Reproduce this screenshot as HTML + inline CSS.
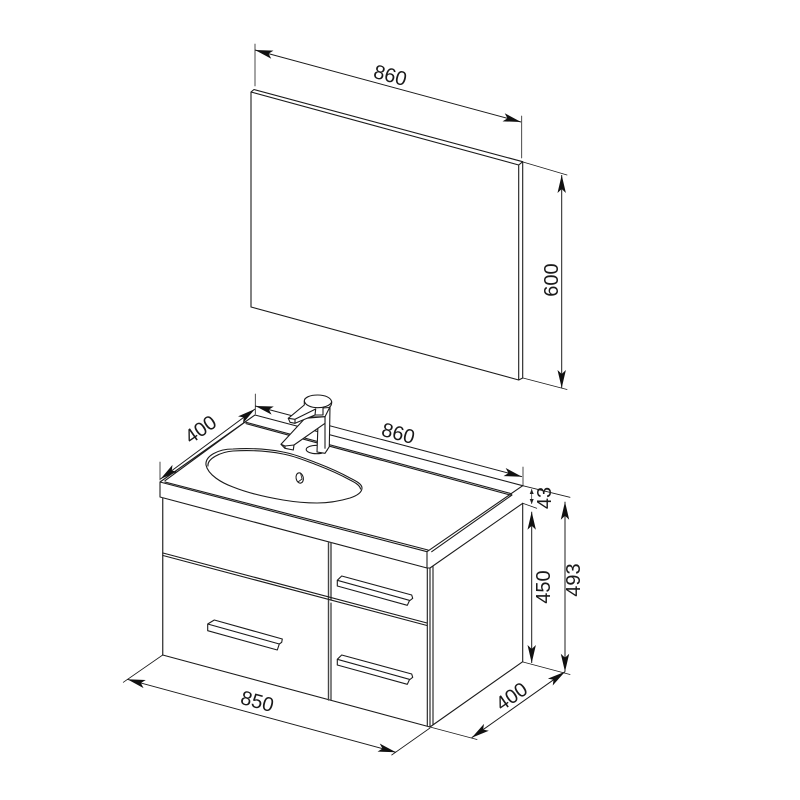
<!DOCTYPE html>
<html><head><meta charset="utf-8"><style>
html,body{margin:0;padding:0;background:#fff}
svg{display:block}
text{font-family:"Liberation Sans",sans-serif;font-size:20px;fill:#1a1a1a;text-anchor:middle;dominant-baseline:central}
.l{fill:none;stroke:#1c1c1c;stroke-width:1.1;stroke-linejoin:round;stroke-linecap:round}
.t{stroke-width:.8}
.w{fill:#fff}
.g{stroke:#444;stroke-width:1.4}
.a{fill:none;stroke:#1c1c1c;stroke-width:1;marker-start:url(#m);marker-end:url(#m)}
.s{fill:none;stroke:#333;stroke-width:.7;marker-start:url(#n);marker-end:url(#n)}
</style></head><body>
<svg width="800" height="800" viewBox="0 0 800 800" xmlns="http://www.w3.org/2000/svg">
<defs>
<marker id="m" markerUnits="userSpaceOnUse" markerWidth="22" markerHeight="12" refX="20" refY="6" orient="auto-start-reverse"><path d="M20,6 L2,1.8 L6,6 L2,10.2 Z" fill="#111"/></marker>
<marker id="n" markerUnits="userSpaceOnUse" markerWidth="8" markerHeight="6" refX="7" refY="3" orient="auto-start-reverse"><path d="M7,3 L2,1 L2,5 Z" fill="#222"/></marker>
</defs>

<!-- mirror -->
<path class="l" d="M251,307 V92 L254,89.5 L522.7,161.7 V378 L518.7,380 L251,307"/>
<path class="l" d="M251,92 L518.7,165 L522.7,161.7 M518.7,165 V380"/>

<!-- mirror dims -->
<path class="l t" d="M255,44 V86 M521.7,116 V158 M523,162 L567,175 M523,378 L567,389.5"/>
<path class="a" d="M255,50 L521,122"/>
<path class="a" d="M561.7,175 V388"/>
<text transform="translate(390,76) rotate(15)">860</text>
<text transform="translate(552,280) rotate(-90)">600</text>

<!-- top dim lines -->
<path class="l t" d="M255.3,394 V414 M523,467 V486"/>
<path class="a" d="M255.3,406 L522,476.7"/>
<path class="a" d="M160.5,479 L255,409"/>
<path class="l t" d="M160,462 V480"/>
<text transform="translate(398,434) rotate(15)">860</text>
<text transform="translate(201,430) rotate(-35)">400</text>

<!-- countertop -->
<path class="l" d="M160,482 L255,415 L522.7,485.7 L427,551.7 L160,482 V497 L427,568 V551.7"/>
<path class="l" d="M165,480.7 L245,422 L510,493.3 L512,495 L431.7,551.7"/>
<path class="l" d="M246,423.6 L510,495"/>
<path class="l" d="M165,482 L428,550"/>
<path class="l" d="M427,568 L430,568 L522.7,503.3"/>

<!-- basin -->
<path class="l" d="M206,465 C205,456 218,449 233,449 C250,448 268,449 283,452 C295,454 306,459 317,463 C330,468 341,473 350,478 C356,481 362,484 362,488 C362,493 356,496 350,498 C340,501 330,503 317,503 C305,503 295,502 283,500 C265,497 248,493 233,487 C222,483 208,475 206,465 Z"/>
<path class="l" d="M208,466 C207,459 220,452 233,451 C250,450 268,451 283,454 C295,456 306,461 317,465 C330,470 341,475 350,480 C354,482 360,485 360.5,489"/>
<ellipse class="l" cx="299.7" cy="478" rx="3.6" ry="5.2" transform="rotate(-12 299.7 478)"/>
<path class="l t" d="M300.5,473 L302,479 L298,482"/>

<!-- faucet -->
<ellipse class="l w" cx="316.7" cy="449.5" rx="10.5" ry="4.2"/>
<path class="l w" d="M311,417 L325,416.7 L330,406.7 L329.3,446.7 L325,453.3 L317,452 L318,424 Z"/>
<path class="l" d="M325,416.7 V448.3"/>
<path class="l w" d="M281,444.3 L305,418.3 L325,416.7 V423.3 L294,445 L293.3,450 L285,448.3 Z"/>
<path class="l" d="M281,444.3 L285,446 L294,445 M285,446 V448.3"/>
<path class="l w" d="M304.3,401 V405 L288.3,418.3 L290,422.3 L295,423.3 L315,415 L323,415 L323,408 L329,407.5 C331,406.5 331.7,404 331.7,402 C331,397.5 325,395 317.7,395 C310,395 304.3,397.5 304.3,401 Z"/>
<path class="l" d="M304.3,401 C305,405 311,407.7 317.7,407.7 C323,407.7 330,406 331.7,402 M288.3,418.3 L295,419.3 L315.7,409 L315,415 M295,419.3 V423.3"/>

<!-- body -->
<path class="l g" d="M162.7,498 V655"/>
<path class="l" d="M162.7,655 L430,727 L522.7,661.7"/>
<path class="l" d="M427.3,568 V725.5 M430,568 V727 M433,566 V724.5"/>
<path class="l" d="M522.7,503.3 V661.7"/>
<path class="l g" d="M328.5,543 V700 M331,543 V600"/>
<path class="l" d="M331,603 V700"/>
<!-- drawer lines -->
<path class="l" d="M163,553 L427,623 M163,555.5 L427,625.5"/>

<!-- handles -->
<path class="l" d="M337.3,580.3 L341.7,576 L411.7,595 L412.7,598.3 L409.3,601 L407.3,605.3 L337.3,586 Z M337.3,580.3 L409.3,600.3"/>
<path class="l" d="M337.3,659.3 L341.7,655 L411.7,674 L412.7,677.3 L409.3,680 L407.3,684.3 L337.3,665 Z M337.3,659.3 L409.3,679.3"/>
<path class="l" d="M207.7,624 L214.3,620 L282.3,639 L281.7,642.3 L279.3,644 L277.3,650 L207.7,630.7 Z M207.7,624 L279.3,644"/>

<!-- cabinet dims -->
<path class="l t" d="M522.7,485.7 L570,497.3 M522.7,503.3 L536.7,508.3 M523,662 L570,674.5 M430,727 L477,739.5 M162.7,655 L123.3,682.3 M430,728 L391.7,755"/>
<path class="a" d="M531.7,511.7 V663"/>
<path class="a" d="M565,501.7 V671.7"/>
<path class="s" d="M531.7,489 V504"/>
<path class="a" d="M471.7,737.7 L565,671.7"/>
<path class="a" d="M127.3,679.3 L396,752.3"/>
<text transform="translate(544,587) rotate(-90)">450</text>
<text transform="translate(574,580) rotate(-90)">493</text>
<text transform="translate(545,498) rotate(-90)">43</text>
<text transform="translate(257,702) rotate(15)">850</text>
<text transform="translate(512,697) rotate(-35)">400</text>
</svg>
</body></html>
